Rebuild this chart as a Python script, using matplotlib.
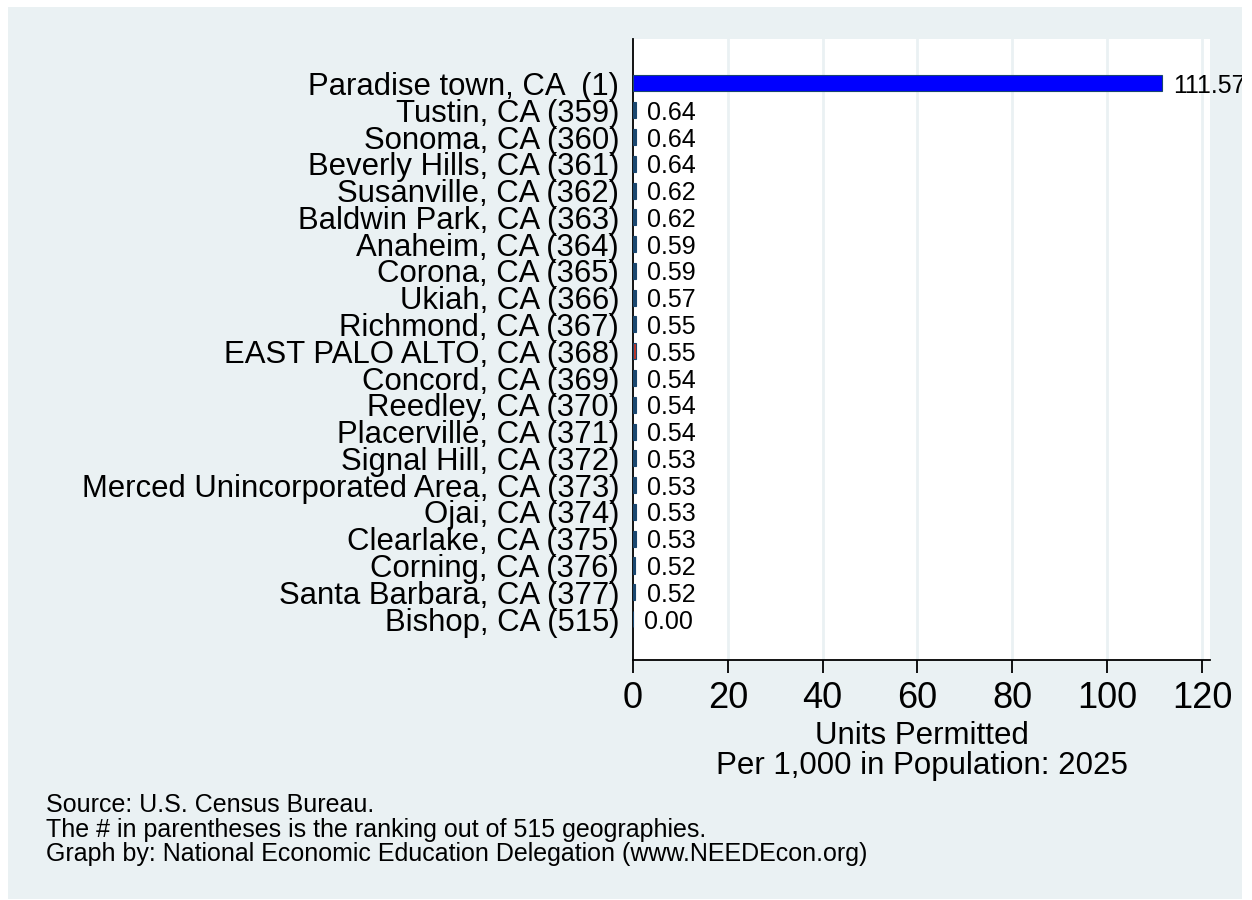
import matplotlib
matplotlib.use("Agg")
import matplotlib.pyplot as plt
from matplotlib.patches import Rectangle
from matplotlib.transforms import Bbox, TransformedBbox

plt.rcParams['font.family'] = ['Liberation Sans', 'DejaVu Sans']

names = ["Paradise town, CA  (1)", "Tustin, CA (359)", "Sonoma, CA (360)",
         "Beverly Hills, CA (361)", "Susanville, CA (362)", "Baldwin Park, CA (363)",
         "Anaheim, CA (364)", "Corona, CA (365)", "Ukiah, CA (366)",
         "Richmond, CA (367)", "EAST PALO ALTO, CA (368)", "Concord, CA (369)",
         "Reedley, CA (370)", "Placerville, CA (371)", "Signal Hill, CA (372)",
         "Merced Unincorporated Area, CA (373)", "Ojai, CA (374)", "Clearlake, CA (375)",
         "Corning, CA (376)", "Santa Barbara, CA (377)", "Bishop, CA (515)"]
values = [111.57, 0.64, 0.64, 0.64, 0.62, 0.62, 0.59, 0.59, 0.57, 0.55, 0.55,
          0.54, 0.54, 0.54, 0.53, 0.53, 0.53, 0.53, 0.52, 0.52, 0.00]
xticks = [0, 20, 40, 60, 80, 100, 120]
source_lines = ["Source: U.S. Census Bureau.",
                "The # in parentheses is the ranking out of 515 geographies.",
                "Graph by: National Economic Education Delegation (www.NEEDEcon.org)"]

bg = '#EAF1F3'
W, H = 1252, 900
fig = plt.figure(figsize=(W / 100, H / 100), dpi=100, facecolor='white')
bgrect = Rectangle((8 / W, 1 / H), (1242 - 8) / W, (893 - 1) / H,
                   transform=fig.transFigure, facecolor=bg, edgecolor='none', zorder=-10)
fig.patches.append(bgrect)

ax = fig.add_axes([633 / W, (900 - 660) / H, (1210 - 633) / W, (660 - 39) / H])
ax.set_facecolor('white')

colors = []
for n in names:
    if n.startswith("Paradise"):
        colors.append('#0000FF')
    elif n.startswith("EAST PALO ALTO"):
        colors.append('#C0392B')
    else:
        colors.append('#1A476F')

ypos = list(range(len(names)))
ax.barh(ypos, values, height=0.6, color=colors, edgecolor='#1A476F', linewidth=0.8, zorder=3)
clipbox = TransformedBbox(Bbox([[8 / W, 1 / H], [1242 / W, 893 / H]]), fig.transFigure)
for y, v in zip(ypos, values):
    t = ax.annotate(f"{v:.2f}", xy=(v, y), xytext=(8, 0), textcoords='offset points',
                    ha='left', va='center_baseline', fontsize=18, annotation_clip=False)
    t.set_clip_on(True)
    t.set_clip_box(clipbox)

ax.set_ylim(20 + 1.53, -1.66)
ax.set_xlim(0, 121.7)
ax.set_yticks(ypos)
ax.set_yticklabels(names, fontsize=22.4)
ax.tick_params(axis='y', length=0, pad=10)
ax.set_xticks(xticks)
ax.set_xticklabels([str(x) for x in xticks], fontsize=26)
ax.tick_params(axis='x', length=9, width=1.3, pad=6, color='black')

for x in xticks[1:]:
    ax.axvline(x, color=bg, linewidth=2, zorder=1)

for s in ['top', 'right']:
    ax.spines[s].set_visible(False)
for s in ['left', 'bottom']:
    ax.spines[s].set_linewidth(1.3)
    ax.spines[s].set_color('black')

ax.set_xlabel("Units Permitted\nPer 1,000 in Population: 2025", fontsize=22.5,
              linespacing=1.0, labelpad=4)

for i, line in enumerate(source_lines):
    fig.text(46 / W, 1 - (812 + i * 24.5) / H, line, fontsize=18, ha='left', va='baseline')

fig.savefig("out.png", dpi=100, facecolor='white')
